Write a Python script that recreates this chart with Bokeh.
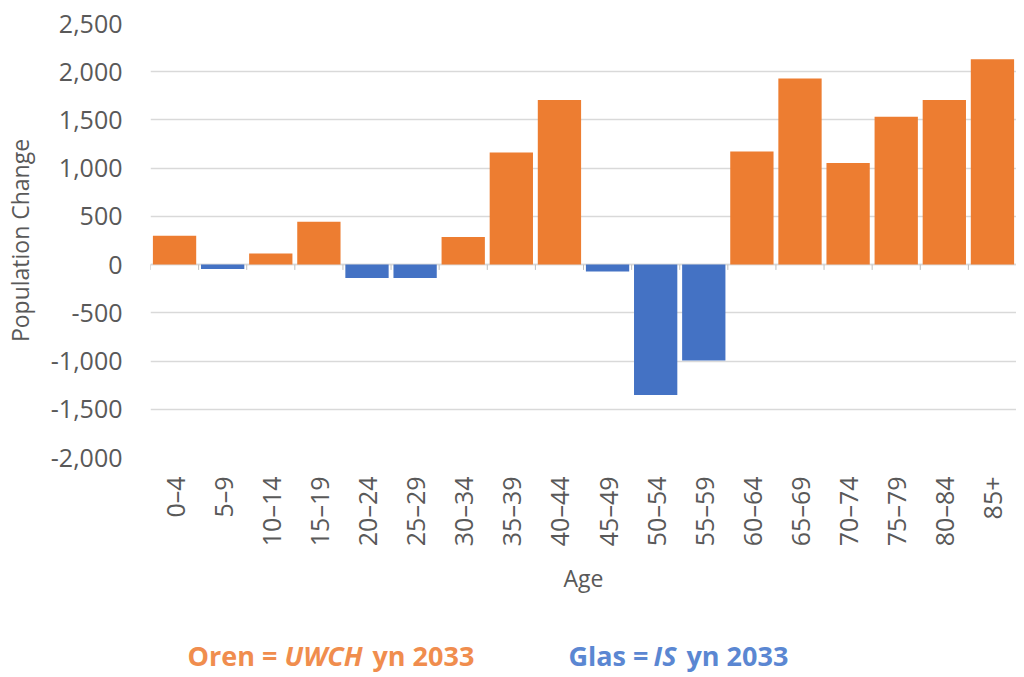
import numpy as np
from bokeh.plotting import figure
from bokeh.layouts import column
from bokeh.models import ColumnDataSource, Range1d, FixedTicker, NumeralTickFormatter, Span
from bokeh.embed import file_html
from bokeh.resources import INLINE
from bokeh.core.properties import value

# ---- data ----
ages = ["0–4", "5–9", "10–14", "15–19", "20–24", "25–29", "30–34", "35–39", "40–44",
        "45–49", "50–54", "55–59", "60–64", "65–69", "70–74", "75–79", "80–84", "85+"]
change = [300, -45, 115, 445, -138, -138, 287, 1163, 1708,
          -72, -1353, -995, 1173, 1929, 1053, 1532, 1708, 2129]
y_ticks = [-2000, -1500, -1000, -500, 0, 500, 1000, 1500, 2000, 2500]
key_plain = ["Oren =", "yn 2033", "Glas =", "yn 2033"]
key_italic = ["UWCH", "IS"]

ORANGE = "#ED7D31"
BLUE = "#4472C4"
ORANGE_TXT = "#F08D4E"
BLUE_TXT = "#5B87D2"
GRAY = "#595959"
FONT = "Open Sans"
W = 1016
LEFT = 150

n = len(ages)
xs = list(range(n))
colors = [ORANGE if v >= 0 else BLUE for v in change]
src = ColumnDataSource(dict(x=xs, top=change, color=colors))

p = figure(width=W, height=609, output_backend="svg", toolbar_location=None,
           x_range=Range1d(-0.5, n - 0.5), y_range=Range1d(y_ticks[0], y_ticks[-1]),
           min_border_left=LEFT, min_border_right=0, min_border_top=23, min_border_bottom=152)
p.outline_line_color = None

p.vbar(x="x", top="top", bottom=0, width=0.9, fill_color="color", line_color=None, source=src)

p.add_layout(Span(location=0, dimension="width", line_color="#D9D9D9", line_width=1.5, level="underlay"))
bounds = np.arange(n + 1) - 0.5
p.segment(x0=bounds, x1=bounds, y0=[0] * (n + 1), y1=[-55] * (n + 1), line_color="#BFBFBF", line_width=1)

# y axis
p.yaxis.ticker = FixedTicker(ticks=y_ticks)
p.yaxis.formatter = NumeralTickFormatter(format="0,0")
p.yaxis.axis_line_color = None
p.yaxis.major_tick_line_color = None
p.yaxis.major_tick_out = 0
p.yaxis.major_tick_in = 0
p.yaxis.minor_tick_line_color = None
p.yaxis.major_label_standoff = 28
p.yaxis.major_label_text_font = FONT
p.yaxis.major_label_text_font_size = "25px"
p.yaxis.major_label_text_color = GRAY
p.yaxis.axis_label = "Population Change"
p.yaxis.axis_label_text_font = FONT
p.yaxis.axis_label_text_font_size = "23px"
p.yaxis.axis_label_text_font_style = "normal"
p.yaxis.axis_label_text_color = GRAY
p.yaxis.axis_label_standoff = 12

# x axis
p.xaxis.ticker = FixedTicker(ticks=xs)
p.xaxis.major_label_overrides = {i: a for i, a in zip(xs, ages)}
p.xaxis.major_label_orientation = np.pi / 2
p.xaxis.axis_line_color = None
p.xaxis.major_tick_line_color = None
p.xaxis.major_tick_out = 0
p.xaxis.major_tick_in = 0
p.xaxis.minor_tick_line_color = None
p.xaxis.major_label_standoff = 19
p.xaxis.major_label_text_font = FONT
p.xaxis.major_label_text_font_size = "25px"
p.xaxis.major_label_text_color = GRAY
p.xaxis.axis_label = "Age"
p.xaxis.axis_label_text_font = FONT
p.xaxis.axis_label_text_font_size = "23px"
p.xaxis.axis_label_text_font_style = "normal"
p.xaxis.axis_label_text_color = GRAY
p.xaxis.axis_label_standoff = 13

p.xgrid.grid_line_color = None
p.ygrid.ticker = FixedTicker(ticks=y_ticks)
p.ygrid.grid_line_color = "#D9D9D9"
p.ygrid.grid_line_width = 1.5

# colour key below the chart (x in page pixels; frame aligned with the chart's frame)
KH = 68
k = figure(width=W, height=KH, output_backend="svg", toolbar_location=None,
           x_range=Range1d(LEFT, W), y_range=Range1d(0, KH),
           min_border_left=LEFT, min_border_right=0, min_border_top=0, min_border_bottom=0)
k.outline_line_color = None
k.axis.visible = False
k.grid.grid_line_color = None
BY = 22
k.text(x=[187, 372], y=[BY, BY], text=[key_plain[0], key_plain[1]], text_font=value(FONT),
       text_font_size="27px", text_font_style="bold", text_color=ORANGE_TXT, text_baseline="alphabetic")
k.text(x=[568, 686], y=[BY, BY], text=[key_plain[2], key_plain[3]], text_font=value(FONT),
       text_font_size="27px", text_font_style="bold", text_color=BLUE_TXT, text_baseline="alphabetic")
k.text(x=[284], y=[BY], text=[key_italic[0]], text_font=value(FONT),
       text_font_size="27px", text_font_style="bold italic", text_color=ORANGE_TXT, text_baseline="alphabetic")
k.text(x=[653], y=[BY], text=[key_italic[1]], text_font=value(FONT),
       text_font_size="27px", text_font_style="bold italic", text_color=BLUE_TXT, text_baseline="alphabetic")

layout = column(p, k, spacing=0)
open("out.html", "w").write(file_html(layout, INLINE))
